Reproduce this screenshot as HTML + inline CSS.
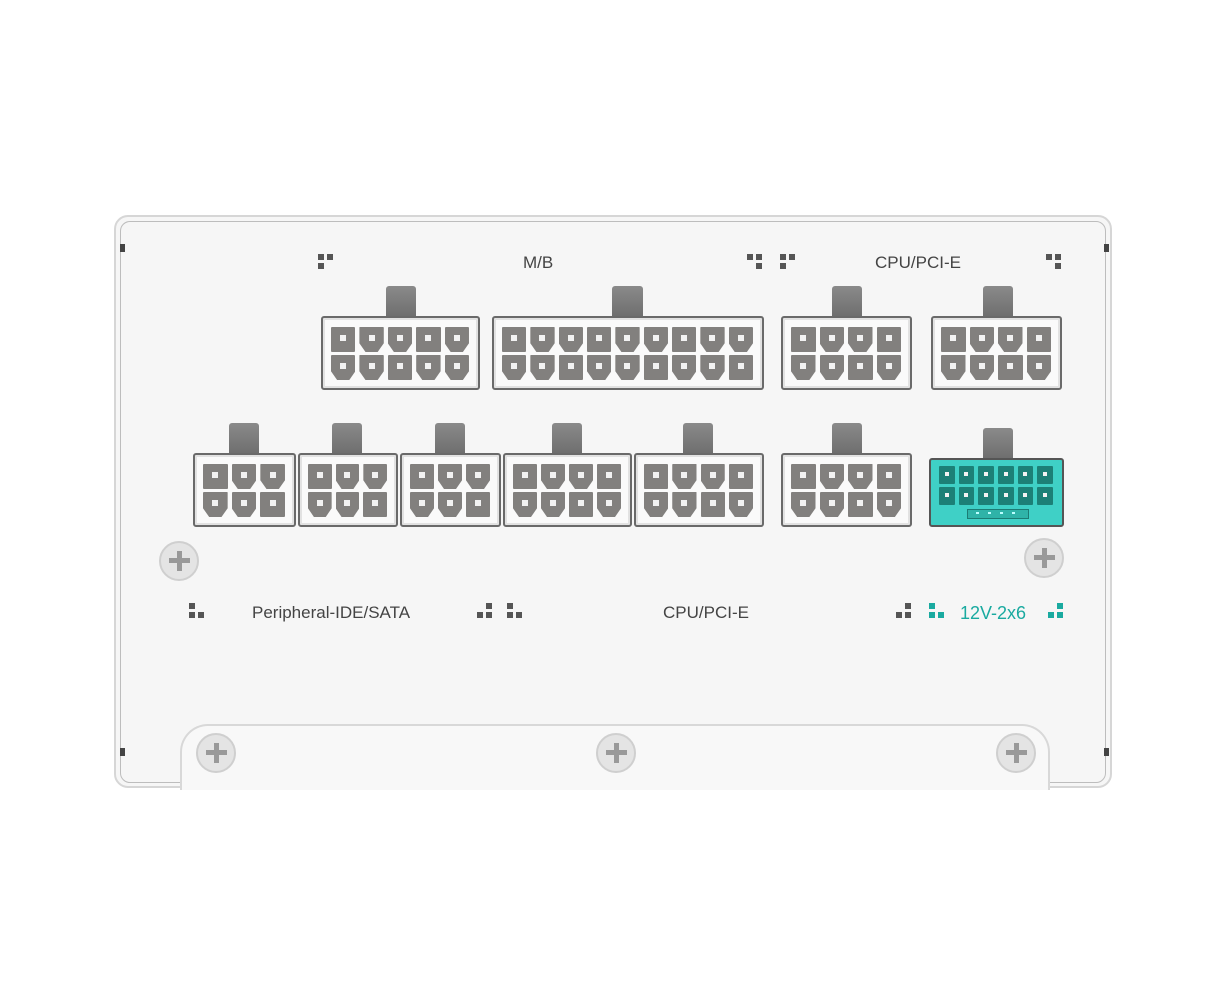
<!DOCTYPE html>
<html><head><meta charset="utf-8"><style>
body{margin:0;width:1230px;height:1006px;background:#fff;position:relative;overflow:hidden;font-family:"Liberation Sans",sans-serif}
.abs{position:absolute}
.panel{left:114px;top:215px;width:998px;height:573px;border:2px solid #d6d6d6;border-radius:14px;background:#f6f6f6;box-sizing:border-box}
.panel2{left:120px;top:221px;width:986px;height:562px;border:1.5px solid #bdbdbd;border-radius:10px;box-sizing:border-box}
.ledge{left:180px;top:724px;width:870px;height:66px;background:#f8f8f8;border:2px solid #d8d8d8;border-bottom:none;border-radius:28px 28px 0 0;box-sizing:border-box}
.conn{position:absolute;background:#fafafa;border:2.5px solid #6a6a6a;border-radius:3px;box-sizing:border-box;box-shadow:inset 0 0 0 2px #e2e2e2}
.tab{position:absolute;background:linear-gradient(#8a8a8a,#6d6d6d);border-radius:3px 3px 0 0}
.pin{position:absolute;background:#82807e;border-radius:1px}
.pin.c{clip-path:polygon(0 0,100% 0,100% 65%,75% 100%,25% 100%,0 65%)}
.pin i{position:absolute;left:50%;top:45%;width:6px;height:6px;margin:-3px;background:#f2f2f2}
.lbl{position:absolute;font-size:17px;color:#444}
.sq{position:absolute;width:6px;height:6px;background:#555}
.screw{position:absolute;width:40px;height:40px;border-radius:50%;background:#e4e4e4;border:2px solid #cfcfcf;box-sizing:border-box}
.screw:before{content:"";position:absolute;left:16px;top:8px;width:5px;height:20px;background:#999}
.screw:after{content:"";position:absolute;left:8px;top:15px;width:21px;height:5px;background:#999}
.nub{position:absolute;width:5px;height:8px;background:#444}
</style></head><body>
<div class="abs panel"></div>
<div class="abs panel2"></div>
<div class="abs ledge"></div>
<div class="nub" style="left:120px;top:244px"></div>
<div class="nub" style="left:1104px;top:244px"></div>
<div class="nub" style="left:120px;top:748px"></div>
<div class="nub" style="left:1104px;top:748px"></div>
<div id="c"></div>
<div class="lbl" style="left:523px;top:253px">M/B</div>
<div class="lbl" style="left:875px;top:253px">CPU/PCI-E</div>
<div class="lbl" style="left:252px;top:603px">Peripheral-IDE/SATA</div>
<div class="lbl" style="left:663px;top:603px">CPU/PCI-E</div>
<div class="lbl" style="left:960px;top:603px;color:#1aaaa0;font-size:18px">12V-2x6</div>
<div class="screw" style="left:159px;top:541px"></div>
<div class="screw" style="left:1024px;top:538px"></div>
<div class="screw" style="left:196px;top:733px"></div>
<div class="screw" style="left:596px;top:733px"></div>
<div class="screw" style="left:996px;top:733px"></div>
<script>
var c=document.getElementById('c'),h='';
function sq(x,y,p,col){
  p.forEach(function(d){h+='<div class="sq" style="left:'+(x+d[0]*9)+'px;top:'+(y+d[1]*9)+'px;background:'+(col||'#555')+'"></div>';});
}
var A=[[0,0],[1,0],[0,1]],B=[[0,0],[1,0],[1,1]],C=[[0,0],[0,1],[1,1]],D=[[1,0],[0,1],[1,1]];
sq(318,254,A);sq(747,254,B);sq(780,254,A);sq(1046,254,B);
sq(189,603,C);sq(477,603,D);sq(507,603,C);sq(896,603,D);
sq(929,603,C,'#1aaaa0');sq(1048,603,D,'#1aaaa0');
function conn(x,y,w,hh,cols,tx,tw,teal){
  h+='<div class="tab" style="left:'+tx+'px;top:'+(y-30)+'px;width:'+tw+'px;height:32px"></div>';
  h+='<div class="conn" style="left:'+x+'px;top:'+y+'px;width:'+w+'px;height:'+hh+'px;'+(teal?'background:#3fd0c6;border-color:#555;box-shadow:none':'')+'">';
  var pad=8,gap=4,pw=(w-2*pad-5-gap*(cols-1))/cols,ph=teal?18:25;
  for(var r=0;r<2;r++)for(var k=0;k<cols;k++){
    var cl=teal?'':(((k+r)%3==0)?'':' c');
    h+='<div class="pin'+cl+'" style="left:'+(pad+k*(pw+gap))+'px;top:'+((teal?6:9)+r*(ph+3))+'px;width:'+pw+'px;height:'+ph+'px;'+(teal?'background:#1c8077':'')+'"><i'+(teal?' style="width:4px;height:4px;margin:-2px"':'')+'></i></div>';
  }
  if(teal)h+='<div class="abs" style="left:36px;top:49px;width:60px;height:8px;background:#2fb3a8;border:1.5px solid #1c7c74"><div style="position:absolute;left:8px;top:2px;width:44px;height:2px;background:repeating-linear-gradient(90deg,#bff 0 3px,transparent 3px 12px)"></div></div>';
  h+='</div>';
}
conn(321,316,159,74,5,386,30);
conn(492,316,272,74,9,612,31);
conn(781,316,131,74,4,832,30);
conn(931,316,131,74,4,983,30);
conn(193,453,103,74,3,229,30);
conn(298,453,100,74,3,332,30);
conn(400,453,101,74,3,435,30);
conn(503,453,129,74,4,552,30);
conn(634,453,130,74,4,683,30);
conn(781,453,131,74,4,832,30);
conn(929,458,135,69,6,983,30,true);
c.innerHTML=h;
</script>
</body></html>
